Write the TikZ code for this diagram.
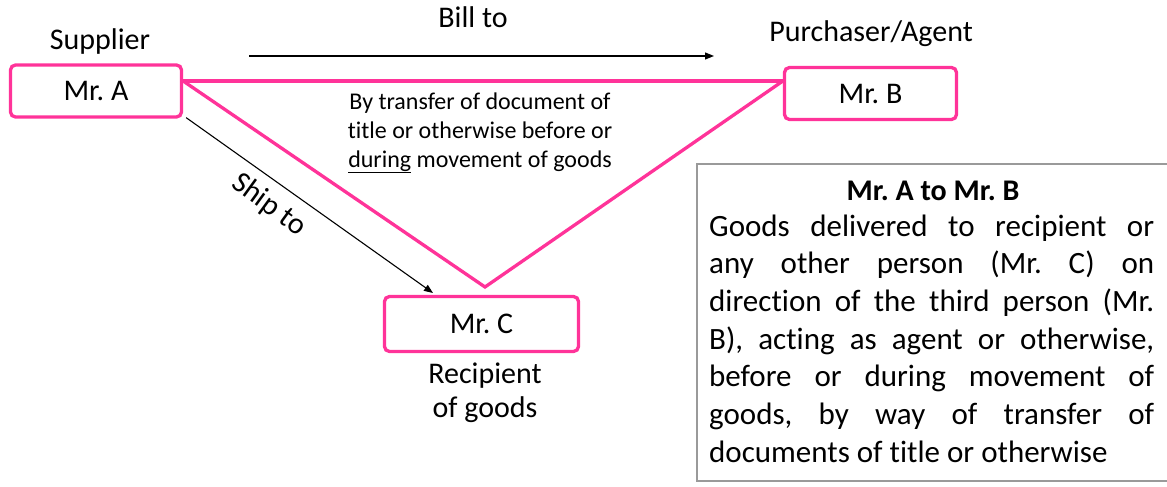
\documentclass[tikz,border=0pt]{standalone}
\usepackage{fontspec}
\setmainfont{Carlito}[Ligatures={NoCommon,NoContextual}]
\usetikzlibrary{arrows.meta}
\definecolor{linkpink}{HTML}{FF3399}
\definecolor{framegray}{HTML}{9A9A9A}
% one justified line of the explanation text
\newcommand\spreadline[1]{\makebox[445pt][s]{#1}}
\frenchspacing
\begin{document}
\begin{tikzpicture}[x=1pt,y=-1pt,
  party/.style={draw=linkpink, line width=3.3pt, rounded corners=5pt, inner sep=0pt,
                font=\fontsize{30}{36}\selectfont},
  tie/.style={draw=linkpink, line width=3.3pt, line join=miter},
  flow/.style={draw=black, line width=1.1pt, -{Triangle[length=9pt,width=7pt]}},
  lbl/.style={inner sep=0pt, font=\fontsize{30}{36}\selectfont},
  note/.style={inner sep=0pt, anchor=base, font=\fontsize{24}{29}\selectfont},
  body/.style={inner sep=0pt, anchor=base west, font=\fontsize{31}{38}\selectfont}
]
\useasboundingbox (0,0) rectangle (1167,487);
\clip (0,0) rectangle (1167,487);

% parties
\node[party, minimum width=171pt, minimum height=52pt] (A) at (96,91) {Mr. A};
\node[party, minimum width=172pt, minimum height=52pt] (B) at (870.5,93.5) {Mr. B};
\node[party, minimum width=194pt, minimum height=55pt] (C) at (481.5,324) {Mr. C};

% role labels
\node[lbl, anchor=base] (supplier) at (100,49) {Supplier};
\node[lbl, anchor=base] (purchaser) at (871,42) {Purchaser/Agent};
\node[lbl, anchor=base] (recip1) at (485,383) {Recipient};
\node[lbl, anchor=base] (recip2) at (485,417) {of goods};

% transfer triangle
\coordinate (apex) at (485,287);
\draw[tie] ([yshift=10pt]A.east) -- ([yshift=12.5pt]B.west);
\draw[tie] ([yshift=10pt]A.east) -- (apex) -- ([yshift=12.5pt]B.west);

% bill to arrow
\coordinate (billstart) at (249,56);
\coordinate (billend) at (714,56);
\draw[flow] (billstart) -- (billend);
\node[lbl, anchor=base] (billto) at (473,28) {Bill to};

% ship to arrow
\coordinate (shipend) at (433,293);
\draw[flow] ([xshift=3pt,yshift=1pt]A.south east) -- (shipend);
\node[lbl, rotate=-36] (shipto) at (269,205) {Ship to};

% note inside the triangle
\node[note] (n1) at (480,109) {By transfer of document of};
\node[note] (n2) at (480,138) {title or otherwise before or};
\node[note] (n3) at (480,167) {\underline{during} movement of goods};

% explanation box
\node[draw=framegray, line width=1.5pt, inner sep=0pt, minimum width=483pt,
      minimum height=317pt] (infobox) at (938.5,322.5) {};
\node[inner sep=0pt, anchor=base, font=\fontsize{30}{36}\selectfont\bfseries]
  (boxtitle) at (933,200) {Mr. A to Mr. B};
\node[body] (b1) at (709,236)   {\spreadline{Goods delivered to recipient or}};
\node[body] (b2) at (709,273.7) {\spreadline{any other person (Mr. C) on}};
\node[body] (b3) at (709,311.4) {\spreadline{direction of the third person (Mr.}};
\node[body] (b4) at (709,349.1) {\spreadline{B), acting as agent or otherwise,}};
\node[body] (b5) at (709,386.8) {\spreadline{before or during movement of}};
\node[body] (b6) at (709,424.5) {\spreadline{goods, by way of transfer of}};
\node[body] (b7) at (709,462.2) {documents of title or otherwise};
\end{tikzpicture}
\end{document}
